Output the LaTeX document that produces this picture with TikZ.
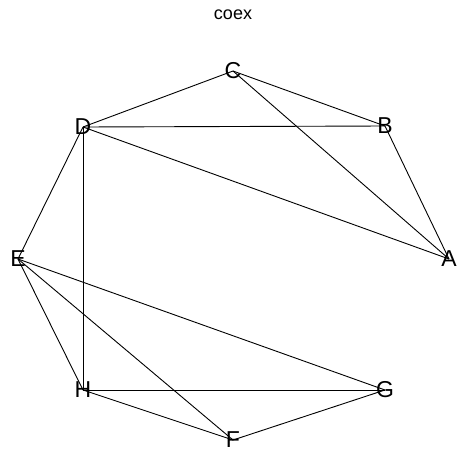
\documentclass[tikz,border=0pt]{standalone}
\usepackage{fontspec}
\setmainfont{Liberation Sans}
\begin{document}
\begin{tikzpicture}[x=1pt,y=-1pt,
  vtx/.style={inner sep=0pt,font=\fontsize{23}{23}\selectfont},
  edge/.style={draw=black,line width=0.9pt}]
\useasboundingbox (0,0) rectangle (457,455);
\node[inner sep=0pt,font=\fontsize{18}{18}\selectfont] (title) at (233,15) {coex};
\coordinate (pA) at (449,259);
\coordinate (pB) at (385,126);
\coordinate (pC) at (233,71);
\coordinate (pD) at (83,127);
\coordinate (pE) at (18,259);
\coordinate (pH) at (83,390);
\coordinate (pG) at (385,390);
\coordinate (pF) at (233,440);
\draw[edge] (pC) -- (pD);
\draw[edge] (pC) -- (pB);
\draw[edge] (pC) -- (pA);
\draw[edge] (pD) -- (pB);
\draw[edge] (pD) -- (pA);
\draw[edge] (pB) -- (pA);
\draw[edge] (pD) -- (pE);
\draw[edge] (pD) -- (pH);
\draw[edge] (pE) -- (pH);
\draw[edge] (pE) -- (pF);
\draw[edge] (pE) -- (pG);
\draw[edge] (pH) -- (pG);
\draw[edge] (pH) -- (pF);
\draw[edge] (pF) -- (pG);
\node[vtx] (A) at (pA) {A};
\node[vtx] (B) at (pB) {B};
\node[vtx] (C) at (pC) {C};
\node[vtx] (D) at (pD) {D};
\node[vtx] (E) at (pE) {E};
\node[vtx] (F) at (pF) {F};
\node[vtx] (G) at (pG) {G};
\node[vtx] (H) at (pH) {H};
\end{tikzpicture}
\end{document}
